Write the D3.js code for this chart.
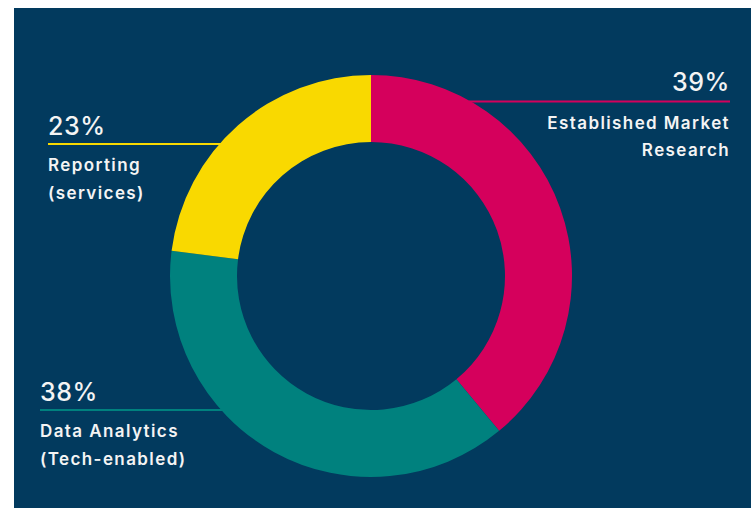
<!DOCTYPE html>
<html>
<head>
<meta charset="utf-8">
<script src="https://cdn.jsdelivr.net/npm/d3@7"></script>
<style>
  html, body { margin: 0; padding: 0; background: #fff; }
  #chart svg { display: block; }
  text { font-family: Inter, "Noto Sans", sans-serif; fill: #f4f4f4; }
</style>
</head>
<body>
<div id="chart"></div>
<script>
// ---------- data ----------
const categories = ["Established Market Research", "Data Analytics (Tech-enabled)", "Reporting (services)"];
const shares = [39, 38, 23];
const labelLines = [["Established Market", "Research"], ["Data Analytics", "(Tech-enabled)"], ["Reporting", "(services)"]];
const sliceColors = ["#d5005c", "#00817e", "#f9d900"];

// ---------- layout ----------
const width = 751, height = 508;
const panel = { x: 14, y: 8 };
const center = { x: 371, y: 276 };
const outerR = 201, innerR = 134;

// label anchor per slice: side, leader line y, percent baseline
const labelLayout = [
  { anchor: "end",   x: 730, lineY: 101.5, pctY: 91 },
  { anchor: "start", x: 40,  lineY: 410,   pctY: 401 },
  { anchor: "start", x: 48,  lineY: 144,   pctY: 135 }
];

const svg = d3.select("#chart").append("svg")
  .attr("width", width)
  .attr("height", height);

svg.append("rect")
  .attr("x", panel.x).attr("y", panel.y)
  .attr("width", width - panel.x).attr("height", height - panel.y)
  .attr("fill", "#023a5e");

// leader lines stop at the outer edge of the ring
const lines = svg.append("g");
labelLayout.forEach((l, i) => {
  const dy = l.lineY - center.y;
  const dx = Math.sqrt(outerR * outerR - dy * dy);
  const edgeX = l.anchor === "end" ? center.x + dx - 2 : center.x - dx + 2;
  lines.append("line")
    .attr("x1", l.x).attr("x2", edgeX)
    .attr("y1", l.lineY).attr("y2", l.lineY)
    .attr("stroke", sliceColors[i])
    .attr("stroke-width", 2);
});

const pie = d3.pie().sort(null).value(d => d);
const arc = d3.arc().innerRadius(innerR).outerRadius(outerR);

svg.append("g")
  .attr("transform", `translate(${center.x},${center.y})`)
  .selectAll("path")
  .data(pie(shares))
  .join("path")
  .attr("d", arc)
  .attr("fill", (d, i) => sliceColors[i]);

// labels
const labels = svg.append("g");
labelLayout.forEach((l, i) => {
  labels.append("text")
    .attr("x", l.x).attr("y", l.pctY)
    .attr("text-anchor", l.anchor)
    .attr("font-size", 25)
    .attr("font-weight", 500)
    .attr("letter-spacing", 0.6)
    .text(`${shares[i]}%`);

  labelLines[i].forEach((t, j) => {
    labels.append("text")
      .attr("x", l.x).attr("y", l.lineY + 27 + j * 27.5)
      .attr("text-anchor", l.anchor)
      .attr("font-size", 17)
      .attr("font-weight", 600)
      .attr("letter-spacing", 1.4)
      .text(t);
  });
});
</script>
</body>
</html>
